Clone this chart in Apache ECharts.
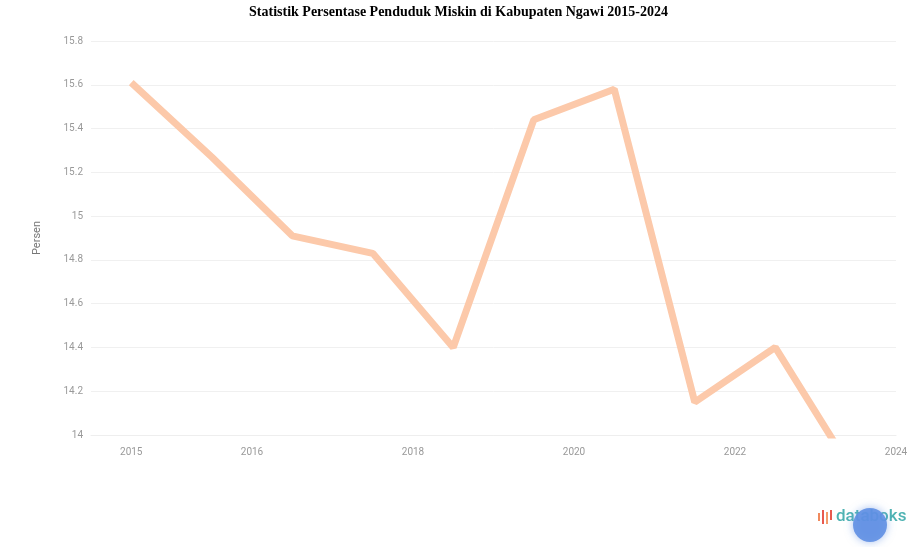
<!DOCTYPE html>
<html>
<head>
<meta charset="utf-8">
<script src="https://cdn.jsdelivr.net/npm/echarts@6/dist/echarts.min.js"></script>
<style>html,body{margin:0;padding:0;background:#fff}#c{width:917px;height:547px}</style>
</head>
<body>
<div id="c"></div>
<script>
const years = [2015, 2016, 2017, 2018, 2019, 2020, 2021, 2022, 2023, 2024];
const persen = [15.61, 15.27, 14.91, 14.83, 14.40, 15.44, 15.58, 14.15, 14.40, 13.81];
const xTickValues = [2015, 2016.5, 2018.5, 2020.5, 2022.5, 2024.5];
const xTickLabels = ['2015', '2016', '2018', '2020', '2022', '2024'];
const titleText = 'Statistik Persentase Penduduk Miskin di Kabupaten Ngawi 2015-2024';
const yName = 'Persen';

const chart = echarts.init(document.getElementById('c'), null, {renderer: 'canvas'});
chart.setOption({
  animation: false,
  backgroundColor: '#fff',
  title: {
    text: titleText, left: 'center', top: 0,
    textStyle: {fontFamily: 'Liberation Serif', fontWeight: 'bold', fontSize: 14, color: '#000'}
  },
  grid: {left: 91, right: 21, top: 41, bottom: 112, containLabel: false},
  xAxis: {
    type: 'value', min: 2014.5, max: 2024.5, interval: 0.5,
    axisLine: {show: true, lineStyle: {color: '#eeeeee'}},
    axisTick: {show: false},
    splitLine: {show: false},
    axisLabel: {
      color: '#999', fontSize: 10, fontFamily: 'Roboto', margin: 12,
      showMinLabel: true, showMaxLabel: true,
      formatter: function (v) {
        for (let i = 0; i < xTickValues.length; i++) {
          if (Math.abs(v - xTickValues[i]) < 1e-6) return xTickLabels[i];
        }
        return '';
      }
    }
  },
  yAxis: {
    type: 'value', min: 14, max: 15.8, interval: 0.2,
    name: yName, nameLocation: 'middle', nameGap: 48,
    nameTextStyle: {color: '#777', fontSize: 11, fontFamily: 'Roboto'},
    axisLine: {show: false}, axisTick: {show: false},
    splitLine: {lineStyle: {color: '#f0f0f0', width: 1}},
    axisLabel: {
      color: '#999', fontSize: 10, fontFamily: 'Roboto', margin: 8,
      formatter: function (v) { return String(parseFloat(v.toFixed(1))); }
    }
  },
  series: [{
    type: 'line',
    data: years.map((y, i) => [y, persen[i]]),
    showSymbol: false,
    clip: true,
    lineStyle: {color: '#fcc9aa', width: 7},
    itemStyle: {color: '#fcc9aa'}
  }],
  graphic: [
    {type: 'rect', shape: {x: 818, y: 513, width: 2, height: 8}, style: {fill: '#f08a5d'}},
    {type: 'rect', shape: {x: 822, y: 510, width: 2, height: 14}, style: {fill: '#e85a4f'}},
    {type: 'rect', shape: {x: 826, y: 512, width: 2, height: 12}, style: {fill: '#f39c6b'}},
    {type: 'rect', shape: {x: 830, y: 510, width: 2, height: 10}, style: {fill: '#e85a4f'}},
    {type: 'text', left: 836, top: 508, style: {text: 'databoks', fill: '#4fb3b3', font: '500 17px Roboto'}},
    {type: 'circle', shape: {cx: 870, cy: 525, r: 17}, style: {fill: '#5f8fe3', opacity: 0.9, shadowBlur: 8, shadowColor: 'rgba(95,143,227,0.6)'}}
  ]
});
</script>
</body>
</html>
